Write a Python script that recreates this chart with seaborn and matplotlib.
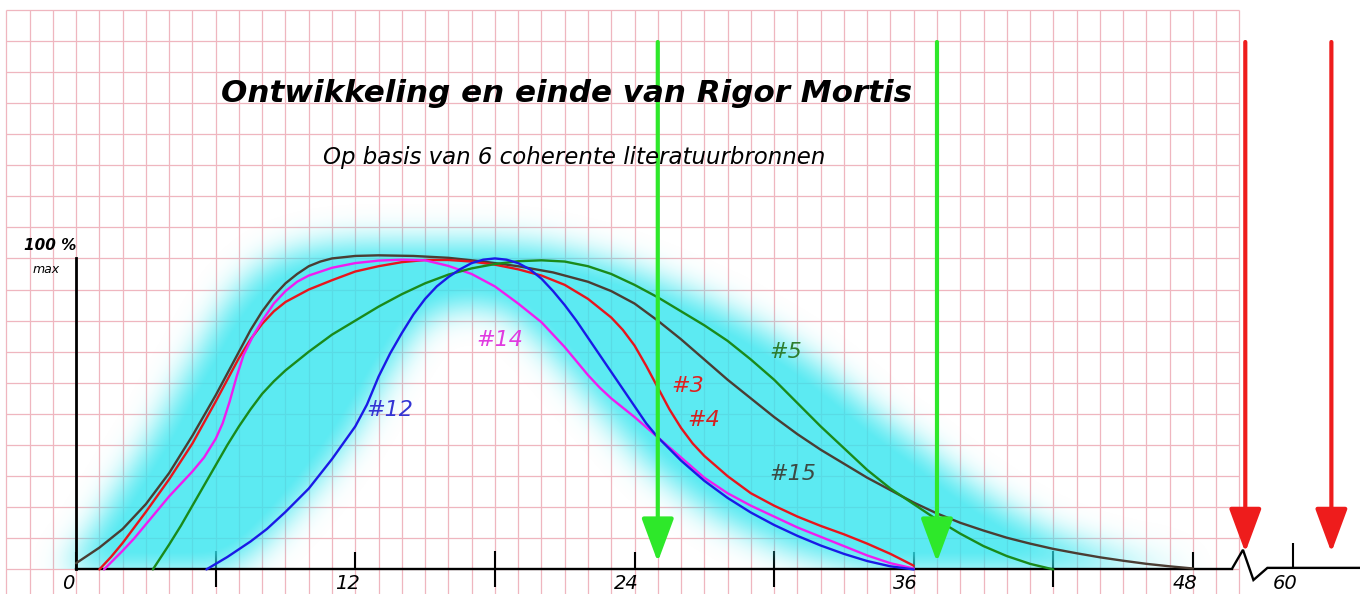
import numpy as np
import pandas as pd
import matplotlib
matplotlib.use("Agg")
import matplotlib.pyplot as plt
import matplotlib.transforms as mtransforms
import seaborn as sns

# hours after death vs. degree of rigor (% of max)
hours_15 = [0, 1, 2, 3, 4, 5, 6, 7, 7.5, 8, 8.5, 9, 9.5, 10, 10.5, 11, 12, 13, 14.5, 16,
            17.5, 19, 20.5, 22, 23, 24, 25, 26, 27, 28, 29, 30, 31, 32, 33, 34, 35, 36,
            37, 38, 39, 40, 41, 42, 43, 44, 45, 46, 47, 48]
pct_15 = [2, 7, 13, 21, 31, 43, 56, 70, 77, 83, 88, 92, 95, 97.5, 99, 100, 100.8, 101, 100.8, 100.2,
          99, 97.5, 95.5, 92.5, 89.5, 85.5, 80, 74, 67.5, 61, 55, 49, 43.5, 38.5, 34, 29.5, 25.5, 21.5,
          18, 15, 12.5, 10.2, 8.3, 6.6, 5.2, 3.9, 2.8, 1.8, 1, 0.3]

hours_3 = [1, 1.5, 2, 2.5, 3, 4, 5, 6, 7, 7.5, 8, 8.5, 9, 10, 11, 12, 13, 14, 15, 16,
           17, 18, 19, 20, 21, 22, 23, 23.5, 24, 24.5, 25, 25.5, 26, 26.5, 27, 28, 29, 30,
           31, 32, 33, 34, 35, 36]
pct_3 = [0, 4, 8.5, 13.5, 18.5, 29, 40.5, 54, 68, 74, 79, 83, 86, 90, 93, 95.8, 97.5, 98.8, 99.5, 99.5,
         99, 98, 96.5, 94.5, 91.5, 87, 81, 77, 72, 65.5, 58.5, 51.5, 45.5, 40.5, 36.5, 30, 24.5, 20.5,
         17, 14, 11.3, 8.3, 5, 1.2]

hours_14 = [1.2, 2, 2.5, 3, 3.5, 4, 4.5, 5, 5.5, 6, 6.3, 6.6, 6.9, 7.2, 7.6, 8, 8.5, 9, 9.5, 10,
            11, 12, 13, 14, 15, 16, 17, 18, 19, 20, 21, 21.5, 22, 22.5, 23, 23.5, 24, 25,
            26, 27, 28, 29, 30, 31, 32, 33, 34, 35, 36]
pct_14 = [0, 6, 10, 14.5, 19, 23.5, 27.5, 31.5, 36, 42, 47, 54, 62, 69, 75, 80, 85.5, 89.5, 92.5, 94.5,
          97, 98.5, 99.3, 99.6, 99.4, 97.6, 95, 91, 85.5, 79.5, 71.5, 67, 62.5, 58.5, 55, 52, 49, 42.5,
          36, 29.5, 24.5, 20.5, 17, 13.5, 10.5, 7.5, 4.5, 2, 0.3]

hours_5 = [3.3, 4, 4.5, 5, 5.5, 6, 6.5, 7, 7.5, 8, 8.5, 9, 9.5, 10, 11, 12, 13, 14, 15, 16,
           17, 18, 19, 20, 21, 22, 23, 24, 25, 26, 27, 28, 29, 30, 31, 32, 33, 34, 35,
           36, 37, 38, 39, 40, 41, 42]
pct_5 = [0, 8, 14, 20.5, 27, 33.5, 40, 46, 51.5, 56.5, 60.5, 64, 67, 70, 75.5, 80, 84.5, 88.5, 92, 94.8,
         96.8, 98.2, 99.1, 99.4, 99, 97.5, 95, 91.5, 87.5, 83, 78.5, 73.5, 67.5, 61, 53.5, 46, 39, 32, 26,
         21, 16, 11.5, 7.5, 4.3, 1.8, 0]

hours_12 = [5.6, 6.5, 7.5, 8.2, 9, 10, 11, 12, 12.5, 13, 13.5, 14, 14.5, 15, 15.5, 16, 16.5, 17,
            17.5, 18, 18.5, 19, 19.5, 20, 20.5, 21, 21.5, 22, 22.5, 23, 23.5, 24, 24.5, 25,
            26, 27, 28, 29, 30, 31, 32, 33, 34, 35, 36]
pct_12 = [0, 4, 9, 13, 18.5, 26, 35.5, 46, 53, 62, 69.5, 76, 82, 87, 91, 94, 96.5, 98.5,
          99.6, 100, 99.6, 98.5, 96.5, 93.5, 89.5, 85, 80, 74.5, 69, 63.5, 58, 52.5, 47, 42.5,
          35, 28.5, 23, 18.3, 14.3, 10.8, 7.7, 5, 2.7, 1, 0]

sources = ["#15", "#3", "#14", "#5", "#12"]
curve_colors = ["#4a3d33", "#e8141c", "#f01cf0", "#1a8a1a", "#1a1ae6"]

# cyan band (common zone of the sources): outer edge and lower edge of the hole
band_x = [-0.5, 0.5, 1.5, 2.5, 3.5, 4.5, 5.5, 6.0, 6.5, 7.0, 7.5, 8.2, 9.3, 10.3, 11.5, 12.5,
          13.5, 14.5, 15.5, 17.0, 18.5, 19.5, 20.4, 21.8, 23.3, 24.7, 26.9, 28.0, 29.7, 31.0,
          32.6, 34.0, 35.0, 36.0, 38.0, 40.0, 42.0, 44.0, 46.0, 48.0]
band_outer = [0, 8, 20, 32, 44, 58, 71, 78, 84, 89, 93, 97.5, 101, 103, 104, 104.5,
              104.5, 104.5, 104.5, 104.5, 104, 103.5, 102.5, 100, 97, 93, 86, 82, 75, 69,
              60, 51, 45, 40, 28, 18, 10, 5, 1.5, 0]
band_lower = [0, 0, 0, 0, 0, 0, 0, 0, 1.5, 3, 6, 11, 20, 29, 41, 53,
              66, 78, 84, 86, 84, 78, 71, 59, 46, 34, 21, 16, 10, 6,
              3, 1, 0, 0, 0, 0, 0, 0, 0, 0]

# text labels
labels = ["#12", "#14", "#3", "#4", "#5", "#15"]
label_x = [13.5, 18.2, 26.3, 27.0, 30.5, 30.8]
label_y = [51.3, 73.8, 59.0, 48.0, 70.0, 30.7]
label_colors = ["#3434d4", "#e03ae0", "#e02020", "#d42020", "#2e7d2e", "#3c4a44"]

tick_pos = [0, 12, 24, 36, 48, 52.3]
tick_labels = ["0", "12", "24", "36", "48", "60"]
minor_pos = [6, 18, 30, 42]

green_arrows = [25.0, 37.0]
red_arrows = [50.25, 53.95]
axis_break_x = [49.7, 50.15, 50.6, 51.2, 55.2]
axis_break_y = [0.5, 6.3, -3.4, 0.5, 0.5]

title = "Ontwikkeling en einde van Rigor Mortis"
subtitle = "Op basis van 6 coherente literatuurbronnen"

sns.set_style("white")
plt.rcParams["font.family"] = ["DejaVu Sans"]
plt.rcParams["text.color"] = "black"

xlim = (-3.27, 55.18)
ylim = (-7.9, 183.1)

fig = plt.figure(figsize=(13.6, 5.94), dpi=100)
ax = fig.add_axes([0, 0, 1, 1])

# graph paper
grid_color = "#efb6bf"
ax.vlines(np.arange(-3, 51), ylim[0], 180, color=grid_color, lw=0.9, zorder=0)
ax.hlines(np.arange(-10, 181, 10), -3, 50, color=grid_color, lw=0.9, zorder=0)

# soft cyan band
xs = np.linspace(xlim[0], xlim[1], 1360)
ys = np.linspace(ylim[0], ylim[1], 594)
hi = np.interp(xs, band_x, band_outer)
lo = np.interp(xs, band_x, band_lower)
Y = ys[:, None]
mask = ((Y >= lo[None, :]) & (Y <= hi[None, :])).astype(float)
sig = 15
k = np.exp(-0.5 * (np.arange(-3 * sig, 3 * sig + 1) / sig) ** 2)
k /= k.sum()
blur = np.apply_along_axis(lambda r: np.convolve(r, k, mode="same"), 1, mask)
blur = np.apply_along_axis(lambda c: np.convolve(c, k, mode="same"), 0, blur)
alpha = np.clip(blur * 1.15, 0, 1) ** 0.85 * 0.8
alpha[ys < 0, :] = 0
rgba = np.zeros((len(ys), len(xs), 4))
rgba[..., 0] = 0.2
rgba[..., 1] = 0.9
rgba[..., 2] = 0.94
rgba[..., 3] = alpha
ax.imshow(rgba, extent=(xlim[0], xlim[1], ylim[0], ylim[1]), origin="lower",
          aspect="auto", zorder=1, interpolation="bilinear")

# the curves
frames = []
for name, h, p in zip(sources,
                      [hours_15, hours_3, hours_14, hours_5, hours_12],
                      [pct_15, pct_3, pct_14, pct_5, pct_12]):
    frames.append(pd.DataFrame({"hours": h, "pct": p, "source": name}))
df = pd.concat(frames, ignore_index=True)

sns.lineplot(data=df, x="hours", y="pct", hue="source", hue_order=sources,
             palette=curve_colors, estimator=None, sort=False, lw=1.7,
             legend=False, ax=ax, zorder=3)

for t, x, y, c in zip(labels, label_x, label_y, label_colors):
    ax.text(x, y, t, color=c, fontsize=16, style="italic", ha="center", va="center", zorder=4)

# arrows
for x in green_arrows:
    ax.annotate("", xy=(x, 2.4), xytext=(x, 169.6), zorder=5,
                arrowprops=dict(arrowstyle="-|>,head_length=1.35,head_width=0.5",
                                color="#2ee82a", lw=3, mutation_scale=20,
                                shrinkA=0, shrinkB=0))
for x in red_arrows:
    ax.annotate("", xy=(x, 5.5), xytext=(x, 169.6), zorder=5,
                arrowprops=dict(arrowstyle="-|>,head_length=1.35,head_width=0.5",
                                color="#ee1c1c", lw=3, mutation_scale=20,
                                shrinkA=0, shrinkB=0))

# axes
for s in ["top", "right"]:
    ax.spines[s].set_visible(False)
ax.spines["bottom"].set_position(("data", 0))
ax.spines["bottom"].set_bounds(0, 49.7)
ax.spines["bottom"].set_linewidth(1.7)
ax.spines["bottom"].set_color("black")
ax.spines["left"].set_position(("data", 0))
ax.spines["left"].set_bounds(0, 100)
ax.spines["left"].set_linewidth(2)
ax.spines["left"].set_color("black")
ax.plot(axis_break_x, axis_break_y, color="black", lw=1.7, zorder=2, solid_joinstyle="miter")

ax.set_xticks(tick_pos)
ax.set_xticklabels(tick_labels)
ax.set_xticks(minor_pos, minor=True)
ax.tick_params(axis="x", which="both", bottom=True, colors="black")
ax.tick_params(axis="x", which="major", direction="in", length=12, width=1.5,
               labelsize=14, pad=3)
ax.tick_params(axis="x", which="minor", direction="inout", length=26, width=1.5)
ax.xaxis.get_major_ticks()[-1].tick1line.set_markersize(19)
shift = mtransforms.ScaledTranslation(-6 / 72, 0, fig.dpi_scale_trans)
for lbl in ax.get_xticklabels():
    lbl.set_style("italic")
    lbl.set_transform(lbl.get_transform() + shift)
ax.set_yticks([])
ax.set_xlabel("")
ax.set_ylabel("")

ax.text(-1.1, 104.3, "100 %", fontsize=11, style="italic", fontweight="bold",
        ha="center", va="center")
ax.text(-1.3, 96.3, "max", fontsize=9, style="italic", ha="center", va="center")

ax.text(21.1, 153, title, fontsize=22.3, style="italic", fontweight="bold",
        ha="center", va="center", zorder=6)
ax.text(21.4, 132.3, subtitle, fontsize=16.5, style="italic",
        ha="center", va="center", zorder=6)

ax.set_xlim(*xlim)
ax.set_ylim(*ylim)

fig.savefig("out.png", dpi=100)
